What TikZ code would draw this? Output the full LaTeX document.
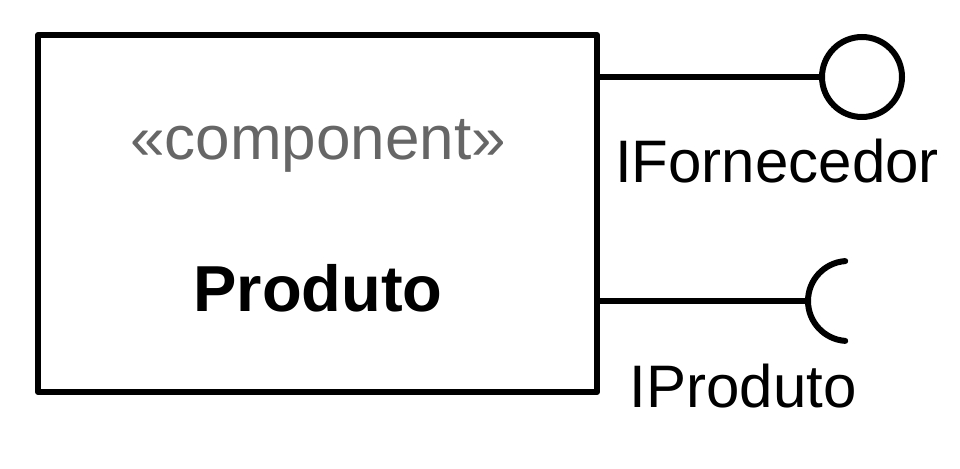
\documentclass[tikz,border=0pt]{standalone}
\usepackage{fontspec}
\setmainfont{Liberation Sans}
\usetikzlibrary{calc}

\tikzset{
	uml line/.style = {line width = 6pt, line join = round},
	big text/.style = {font = \fontsize{60}{72}\selectfont, inner sep = 0pt, anchor = base}
}

\begin{document}
\begin{tikzpicture}[x = 1pt, y = 1pt]
		\def\r{40};
		
		\useasboundingbox (0,0) rectangle (960,468);
		
		\node [uml line, draw, minimum width = 559pt, minimum height = 357pt, inner sep = 0pt] (component) at (317.5,254.5) {};
		\node [big text, text = black!60, font = \fontsize{62}{72}\selectfont] (stereotype) at (318,308) {«component»};
		\node [big text, font = \fontsize{65}{72}\selectfont\bfseries] (name) at (318,156) {Produto};
		
		% provided interface
		\node [uml line, draw, circle, minimum size = {2*\r}, inner sep = 0pt] (provided) at (862,391) {};
		\draw [uml line] (component.east |- provided.west) -- (provided.west);
		\node [big text] (provided label) at (777,285) {IFornecedor};
		
		% required interface
		\coordinate (required) at (808,167);
		\draw [uml line] (component.east |- required) -- (required);
		\draw [uml line, line cap = round] (required) arc [start angle = 180, end angle = 94, radius = \r pt]
			(required) arc [start angle = 180, end angle = 266, radius = \r pt];
		\node [big text] (required label) at (743,60) {IProduto};
	\end{tikzpicture}
\end{document}
